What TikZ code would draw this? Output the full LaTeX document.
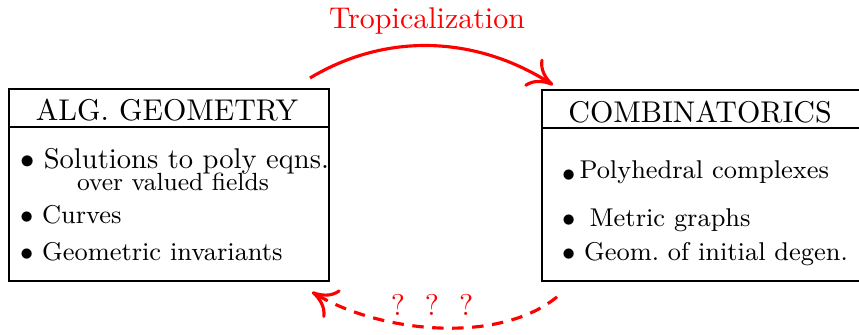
\documentclass[tikz,border=0pt]{standalone}
\usetikzlibrary{arrows.meta,positioning,calc}

\begin{document}
\begin{tikzpicture}[x=0.35pt,y=-0.35pt,
  every node/.style={inner sep=0pt,outer sep=0pt},
  box/.style={draw,line width=0.5pt,rectangle,anchor=north west},
  head/.style={anchor=base,font=\fontsize{10.5}{12}\selectfont},
  item/.style={anchor=base west,font=\fontsize{9}{11}\selectfont},
  bigitem/.style={item,font=\fontsize{10}{12}\selectfont},
  redarrow/.style={red,line width=1.1pt,-{Computer Modern Rightarrow[length=8.5pt,width=11.5pt]}},
  redlabel/.style={red,anchor=base,font=\fontsize{10.5}{12}\selectfont}
]
\useasboundingbox (0,0) rectangle (859,334);

% the box for algebraic geometry
\node[box,minimum width=112pt,minimum height=67.2pt] (alg) at (9,89) {};
\node[head] (alghead) at (167,120) {ALG. GEOMETRY};
\draw[line width=0.5pt] ($(alg.north west)+(0,38)$) -- ($(alg.north east)+(0,38)$);
\node[bigitem] (sol) at (20,168) {$\bullet$ Solutions to poly eqns.};
\node[item,font=\fontsize{8.7}{10}\selectfont] (val) at (77,190) {over valued fields};
\node[item] (crv) at (20,223) {$\bullet$ Curves};
\node[item] (inv) at (20,260) {$\bullet$ Geometric invariants};

% the box for combinatorics
\node[box,minimum width=112pt,minimum height=66.8pt] (comb) at (542,90) {};
\node[head] (combhead) at (700,122) {COMBINATORICS};
\draw[line width=0.5pt] ($(comb.north west)+(0,38)$) -- ($(comb.north east)+(0,38)$);
\node[item] (poly) at (562,178) {\raisebox{-1.2pt}{$\bullet$}\hspace{1.5pt}Polyhedral complexes};
\node[item] (metr) at (562,226) {$\bullet$\hspace{5pt}Metric graphs};
\node[item] (degn) at (562,260) {$\bullet$ Geom.\ of initial degen.};

% the arrows
\coordinate (tropin) at ($(alg.north east)+(-19,-11)$);
\coordinate (tropout) at ($(comb.north west)+(11,-5)$);
\coordinate (backin) at ($(comb.south west)+(15,16)$);
\coordinate (backout) at ($(alg.south east)+(-17,11)$);

\draw[redarrow] (tropin) .. controls +(80,-48) and +(-73,-47) .. (tropout);
\node[redlabel] (trop) at (427,28) {Tropicalization};

\draw[redarrow,dash pattern=on 4pt off 3pt] (backin) .. controls +(-57,47) and +(70,42) .. (backout);
\node[redlabel] (ques) at (432,315) {?\ \ ?\ \ ?};

\end{tikzpicture}
\end{document}
